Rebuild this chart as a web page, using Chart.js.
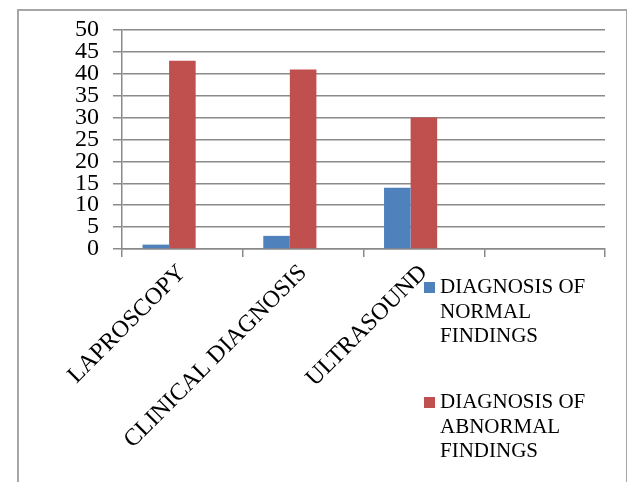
<!DOCTYPE html>
<html lang="en">
<head>
    <meta charset="UTF-8">
    <title>Diagnosis Findings</title>
    <script src="https://cdn.jsdelivr.net/npm/chart.js"></script>
    <style>
        body {
            margin: 0;
            background: white;
            font-family: "Liberation Serif", "Times New Roman", serif;
        }
        .frame {
            position: absolute;
            left: 17px;
            top: 9px;
            width: 607px;
            height: 520px;
            border: 2px solid #a6a6a6;
        }
        .wrap {
            position: absolute;
            left: 0;
            top: 0;
            width: 627px;
            height: 482px;
        }
        #legend {
            position: absolute;
            left: 424px;
            top: 274px;
        }
        .item {
            position: relative;
            width: 170px;
            height: 115px;
            font-size: 21px;
            line-height: 24.5px;
            color: #000;
        }
        .item .box {
            position: absolute;
            left: 0;
            top: 8px;
            width: 11px;
            height: 11px;
        }
        .item .txt {
            position: absolute;
            left: 16px;
            top: 0;
            width: 160px;
        }
    </style>
</head>
<body>
    <div class="frame"></div>
    <div class="wrap">
        <canvas id="chart" width="627" height="482"></canvas>
    </div>
    <div id="legend"></div>
    <script>
        // values
        const categories = ["LAPROSCOPY", "CLINICAL DIAGNOSIS", "ULTRASOUND", ""];
        const normalFindings = [1, 3, 14, null];
        const abnormalFindings = [43, 41, 30, null];
        const seriesNames = ["DIAGNOSIS OF NORMAL FINDINGS", "DIAGNOSIS OF ABNORMAL FINDINGS"];
        const seriesColors = ["#4f81bd", "#c0504d"];
        const yMin = 0, yMax = 50, yStep = 5;

        const font = "'Liberation Serif', 'Times New Roman', serif";
        const gridColor = "#8a8a8a";

        const chart = new Chart(document.getElementById("chart"), {
            type: "bar",
            data: {
                labels: categories,
                datasets: [
                    { label: seriesNames[0], data: normalFindings, backgroundColor: seriesColors[0] },
                    { label: seriesNames[1], data: abnormalFindings, backgroundColor: seriesColors[1] },
                    // empty third slot, the original keeps room for it in every group
                    { label: "", data: [], backgroundColor: "transparent", spacer: true }
                ]
            },
            options: {
                responsive: false,
                animation: false,
                categoryPercentage: 0.66,
                barPercentage: 1.0,
                layout: { padding: { top: 30, right: 22, left: 0, bottom: 0 } },
                plugins: {
                    legend: { display: false },
                    tooltip: { enabled: false }
                },
                scales: {
                    x: {
                        grid: {
                            drawOnChartArea: false,
                            drawTicks: true,
                            tickLength: 8,
                            color: gridColor,
                            lineWidth: 1.5
                        },
                        border: { color: gridColor, width: 1.5 },
                        ticks: {
                            color: "#000",
                            font: { family: font, size: 24 },
                            minRotation: 45,
                            maxRotation: 45,
                            autoSkip: false,
                            padding: 2
                        },
                        afterFit: s => { s.height = 233; }
                    },
                    y: {
                        min: yMin,
                        max: yMax,
                        grid: {
                            color: gridColor,
                            lineWidth: 1.5,
                            tickLength: 9
                        },
                        border: { color: gridColor, width: 1.5 },
                        ticks: {
                            stepSize: yStep,
                            autoSkip: false,
                            color: "#000",
                            font: { family: font, size: 24, lineHeight: 1 },
                            padding: 14
                        },
                        afterFit: s => { s.width = 122; }
                    }
                }
            }
        });

        // legend built from the chart datasets
        const legend = document.getElementById("legend");
        chart.data.datasets.filter(d => !d.spacer).forEach(d => {
            const item = document.createElement("div");
            item.className = "item";
            item.innerHTML = '<span class="box" style="background:' + d.backgroundColor + '"></span>' +
                '<div class="txt">' + d.label + '</div>';
            legend.appendChild(item);
        });
    </script>
</body>
</html>
